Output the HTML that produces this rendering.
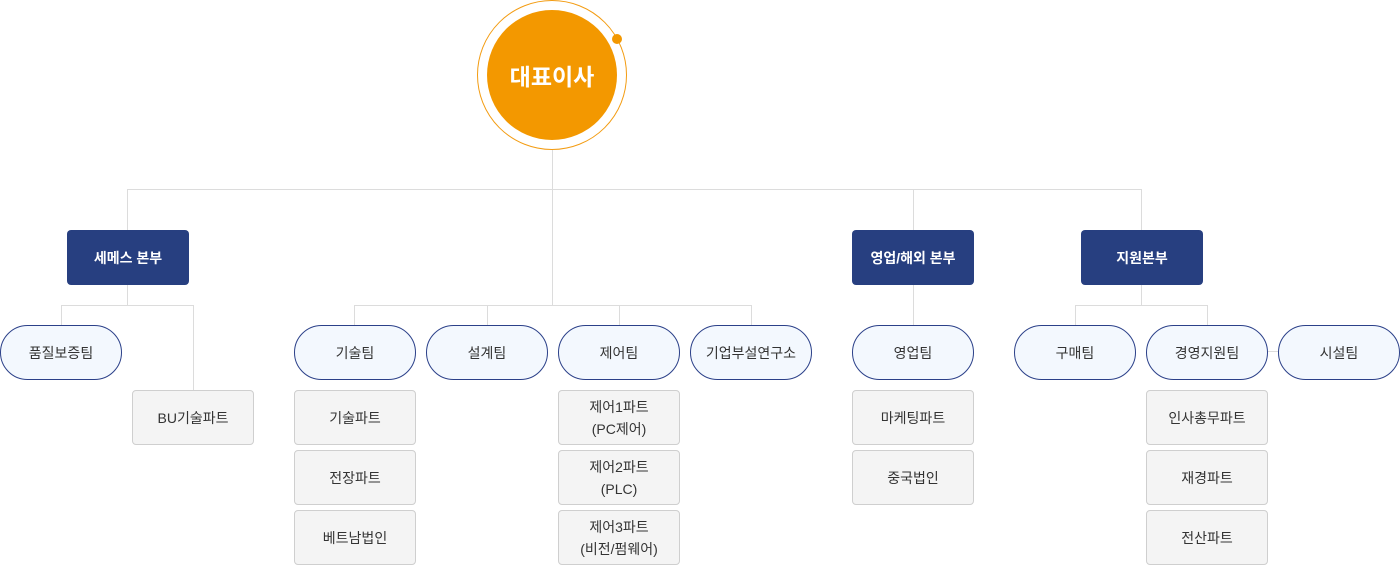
<!DOCTYPE html>
<html><head><meta charset="utf-8"><style>
body{margin:0;width:1400px;height:565px;background:#fff;position:relative;overflow:hidden;font-family:"Liberation Sans","Noto Sans CJK KR",sans-serif;}
.l{position:absolute;background:#dcdcdc;}
.h{height:1px}.v{width:1px}
.d{position:absolute;width:122px;height:55px;background:#273f80;color:#fff;border-radius:4px;display:flex;align-items:center;justify-content:center;font-size:14px;font-weight:bold;top:230px;}
.p{position:absolute;width:120px;height:53px;background:#f3f8fe;border:1px solid #2b4089;border-radius:28px;display:flex;align-items:center;justify-content:center;font-size:14px;color:#333;top:325px;}
.s{position:absolute;width:120px;height:53px;background:#f4f4f4;border:1px solid #cfcfcf;border-radius:4px;display:flex;align-items:center;justify-content:center;text-align:center;font-size:14px;color:#333;line-height:22px;}
</style></head><body>
<div style="position:absolute;left:477px;top:0;width:148px;height:148px;border:1px solid #f39c12;border-radius:50%"></div>
<div style="position:absolute;left:487px;top:10px;width:130px;height:130px;background:#f39800;border-radius:50%;display:flex;align-items:center;justify-content:center;color:#fff;font-size:23px;font-weight:bold">대표이사</div>
<div style="position:absolute;left:612px;top:34px;width:10px;height:10px;background:#f39800;border-radius:50%"></div>

<div class="l v" style="left:552px;top:150px;height:155px"></div>
<div class="l h" style="left:127px;top:189px;width:1015px"></div>
<div class="l v" style="left:127px;top:189px;height:41px"></div>
<div class="l v" style="left:913px;top:189px;height:41px"></div>
<div class="l v" style="left:1141px;top:189px;height:41px"></div>
<div class="l h" style="left:354px;top:305px;width:398px"></div>
<div class="l v" style="left:354px;top:305px;height:20px"></div>
<div class="l v" style="left:487px;top:305px;height:20px"></div>
<div class="l v" style="left:619px;top:305px;height:20px"></div>
<div class="l v" style="left:751px;top:305px;height:20px"></div>
<div class="l v" style="left:127px;top:285px;height:20px"></div>
<div class="l h" style="left:61px;top:305px;width:133px"></div>
<div class="l v" style="left:61px;top:305px;height:20px"></div>
<div class="l v" style="left:193px;top:305px;height:85px"></div>
<div class="l v" style="left:913px;top:285px;height:40px"></div>
<div class="l v" style="left:1141px;top:285px;height:20px"></div>
<div class="l h" style="left:1075px;top:305px;width:133px"></div>
<div class="l v" style="left:1075px;top:305px;height:20px"></div>
<div class="l v" style="left:1207px;top:305px;height:20px"></div>
<div class="l h" style="left:1268px;top:351px;width:10px"></div>

<div class="d" style="left:67px">세메스 본부</div>
<div class="d" style="left:852px">영업/해외 본부</div>
<div class="d" style="left:1081px">지원본부</div>

<div class="p" style="left:0">품질보증팀</div>
<div class="p" style="left:294px">기술팀</div>
<div class="p" style="left:426px">설계팀</div>
<div class="p" style="left:558px">제어팀</div>
<div class="p" style="left:690px">기업부설연구소</div>
<div class="p" style="left:852px">영업팀</div>
<div class="p" style="left:1014px">구매팀</div>
<div class="p" style="left:1146px">경영지원팀</div>
<div class="p" style="left:1278px">시설팀</div>

<div class="s" style="left:132px;top:390px">BU기술파트</div>
<div class="s" style="left:294px;top:390px">기술파트</div>
<div class="s" style="left:294px;top:450px">전장파트</div>
<div class="s" style="left:294px;top:510px">베트남법인</div>
<div class="s" style="left:558px;top:390px">제어1파트<br>(PC제어)</div>
<div class="s" style="left:558px;top:450px">제어2파트<br>(PLC)</div>
<div class="s" style="left:558px;top:510px">제어3파트<br>(비전/펌웨어)</div>
<div class="s" style="left:852px;top:390px">마케팅파트</div>
<div class="s" style="left:852px;top:450px">중국법인</div>
<div class="s" style="left:1146px;top:390px">인사총무파트</div>
<div class="s" style="left:1146px;top:450px">재경파트</div>
<div class="s" style="left:1146px;top:510px">전산파트</div>
</body></html>
